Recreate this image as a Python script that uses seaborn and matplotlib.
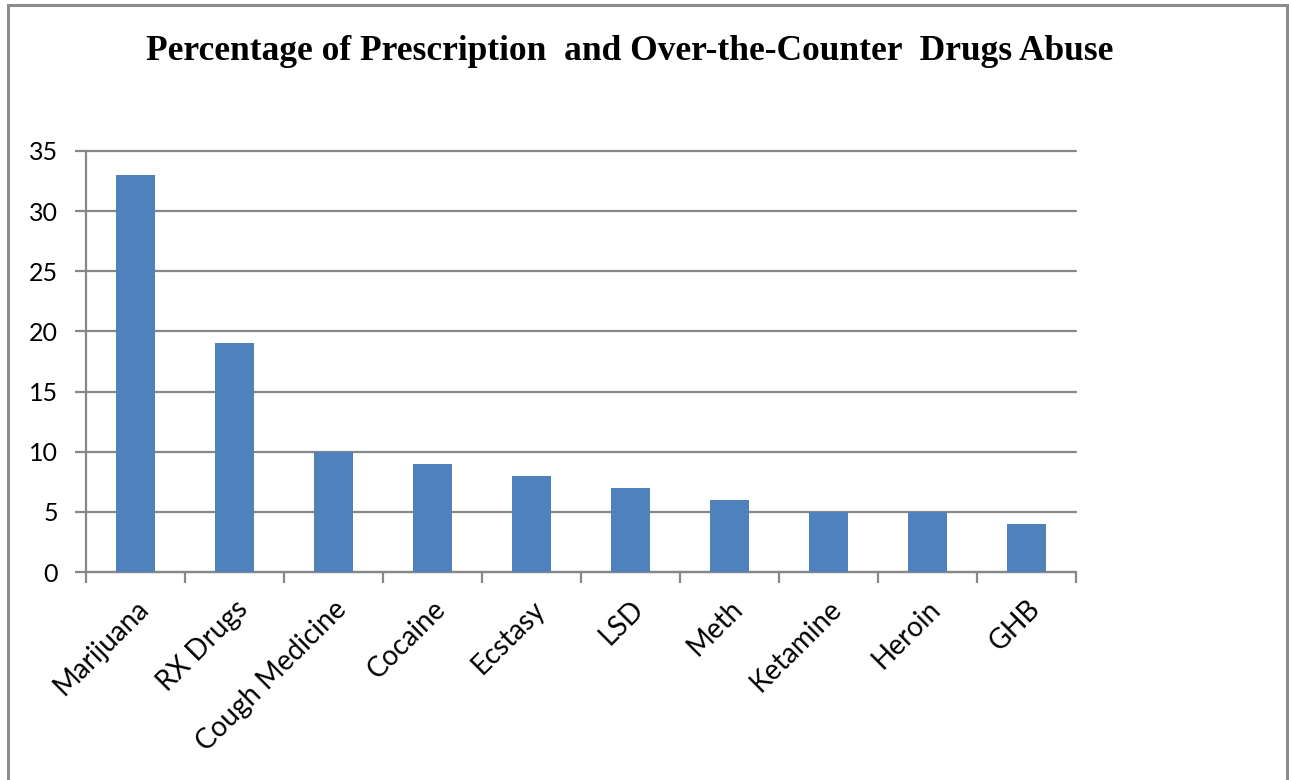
import matplotlib
matplotlib.use("Agg")
import matplotlib.pyplot as plt
import matplotlib.transforms as mtransforms
from matplotlib.patches import Rectangle
import seaborn as sns
import pandas as pd

# Survey results: share of respondents reporting abuse of each drug (%)
drugs = ["Marijuana", "RX Drugs", "Cough Medicine", "Cocaine", "Ecstasy",
         "LSD", "Meth", "Ketamine", "Heroin", "GHB"]
percent = [33, 19, 10, 9, 8, 7, 6, 5, 5, 4]
y_ticks = [0, 5, 10, 15, 20, 25, 30, 35]
title = "Percentage of Prescription  and Over-the-Counter  Drugs Abuse"

df = pd.DataFrame({"drug": drugs, "percent": percent})

sns.set_theme(style="white")
plt.rcParams["font.family"] = ["Lato", "DejaVu Sans"]

W, H = 1289, 780
fig = plt.figure(figsize=(W / 100, H / 100), dpi=100)
ax = fig.add_axes([86 / W, 1 - 572 / H, (1076 - 86) / W, (572 - 151) / H])

grey = "#878787"
sns.barplot(data=df, x="drug", y="percent", color="#4F81BD", saturation=1,
            width=0.4, linewidth=0, edgecolor="none", ax=ax, zorder=3)

ax.set_xlim(-0.5, len(drugs) - 0.5)
ax.set_ylim(0, 35)
ax.set_yticks(y_ticks)
ax.set_yticklabels([str(t) for t in y_ticks], fontsize=18, color="black")
ax.yaxis.grid(True, color=grey, linewidth=1.6, zorder=0)
for gl in ax.get_ygridlines():
    gl.set_clip_on(False)
ax.set_axisbelow(True)

# category ticks sit between bars, labels at bar centres
ax.set_xticks([i - 0.5 for i in range(len(drugs) + 1)])
ax.set_xticklabels([])
ax.set_xticks(range(len(drugs)), minor=True)
ax.set_xticklabels(drugs, minor=True, rotation=45, ha="right",
                   rotation_mode="anchor", fontsize=20, color="black")
shift = mtransforms.ScaledTranslation(-6 / 100, 0, fig.dpi_scale_trans)
for lbl in ax.get_xticklabels(minor=True):
    lbl.set_transform(lbl.get_transform() + shift)
ax.tick_params(axis="x", which="minor", bottom=False, length=0, pad=17)
ax.tick_params(axis="x", which="major", bottom=True, length=8, width=1.6,
               color=grey, direction="out")
ax.tick_params(axis="y", left=True, length=8, width=1.6, color=grey,
               direction="out", pad=12)
ax.set_xlabel("")
ax.set_ylabel("")

for side in ["top", "right"]:
    ax.spines[side].set_visible(False)
for side in ["left", "bottom"]:
    ax.spines[side].set_color(grey)
    ax.spines[side].set_linewidth(1.6)

fig.text(630 / W, 1 - 52 / H, title, ha="center", va="center",
         fontsize=25.5, fontweight="bold", family="Liberation Serif",
         color="black")

# chart-area frame
fig.patches.append(Rectangle((8 / W, -0.05), (1287 - 8) / W, 1.05 - 5 / H,
                             transform=fig.transFigure, fill=False,
                             edgecolor="#8c8c8c", linewidth=2.2))

fig.savefig("out.png", dpi=100)
